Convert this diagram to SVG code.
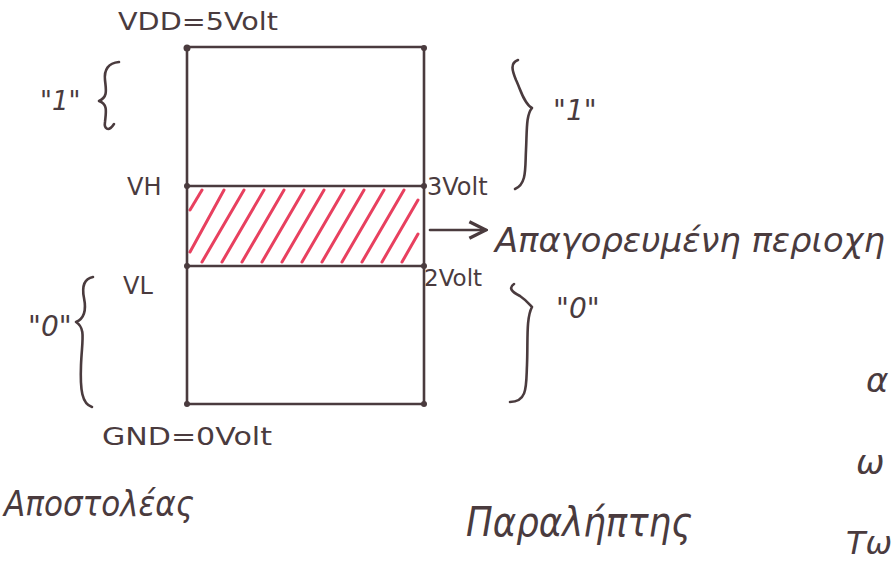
<svg xmlns="http://www.w3.org/2000/svg" width="894" height="562" viewBox="0 0 894 562">
<defs>
<style>
.ink{fill:none;stroke:#4a3b3e;stroke-width:2.6;stroke-linecap:round;stroke-linejoin:round}
.t{fill:#4a3b3e;font-family:"DejaVu Sans","Noto Sans",sans-serif}
.h{stroke:#e8405f;stroke-width:3;stroke-linecap:round}
.dot{fill:#4a3b3e}
</style>
<clipPath id="band"><rect x="188" y="188" width="232" height="76"/></clipPath>
<marker id="arr" viewBox="0 0 10 10" refX="9" refY="5" markerWidth="8" markerHeight="8" orient="auto"><path d="M1,1 L9,5 L1,9" fill="none" stroke="#4a3b3e" stroke-width="1.6"/></marker>
</defs>
<rect width="894" height="562" fill="#ffffff"/>

<g id="forbidden-band">
<g clip-path="url(#band)">
<line class="h" x1="190" y1="210" x2="202" y2="190"/>
<line class="h" x1="190" y1="252" x2="224" y2="190"/>
<line class="h" x1="202" y1="262" x2="244" y2="190"/>
<line class="h" x1="222" y1="262" x2="264" y2="190"/>
<line class="h" x1="242" y1="262" x2="284" y2="190"/>
<line class="h" x1="262" y1="262" x2="304" y2="190"/>
<line class="h" x1="282" y1="262" x2="324" y2="190"/>
<line class="h" x1="302" y1="262" x2="344" y2="190"/>
<line class="h" x1="322" y1="262" x2="364" y2="190"/>
<line class="h" x1="342" y1="262" x2="384" y2="190"/>
<line class="h" x1="362" y1="262" x2="404" y2="190"/>
<line class="h" x1="382" y1="262" x2="418" y2="200"/>
<line class="h" x1="402" y1="262" x2="418" y2="234"/>
</g>
</g>

<g id="voltage-box">
<rect class="ink" x="187" y="47" width="237" height="357"/>
<line class="ink" x1="187" y1="186" x2="424" y2="186"/>
<line class="ink" x1="187" y1="266" x2="424" y2="266"/>
<circle class="dot" cx="187" cy="48" r="3.5"/>
<circle class="dot" cx="424" cy="48" r="3"/>
<circle class="dot" cx="187" cy="186" r="3"/>
<circle class="dot" cx="424" cy="186" r="3"/>
<circle class="dot" cx="187" cy="266" r="3"/>
<circle class="dot" cx="424" cy="266" r="3"/>
<circle class="dot" cx="187" cy="404" r="3"/>
<circle class="dot" cx="424" cy="404" r="3"/>
</g>

<g id="labels-left">
<text class="t" x="118" y="30" font-size="25" textLength="160" lengthAdjust="spacingAndGlyphs">VDD=5Volt</text>
<text class="t" x="127" y="195" font-size="24">VH</text>
<text class="t" x="123" y="294" font-size="24">VL</text>
<text class="t" x="102" y="445" font-size="24" textLength="170" lengthAdjust="spacingAndGlyphs">GND=0Volt</text>
<text class="t" x="40" y="110" font-size="26" font-style="italic">"1"</text>
<text class="t" x="28" y="336" font-size="28" font-style="italic">"0"</text>
<path class="ink" d="M119,62 C108,63 104,70 105,80 C106,90 108,97 99,101 C108,104 106,112 105,122 C104,128 108,133 114,124"/>
<path class="ink" d="M93,277 C83,279 82,288 84,298 C86,308 86,318 76,322 C86,328 82,340 81,365 C80,390 82,404 92,407"/>
</g>

<g id="labels-right">
<text class="t" x="427" y="195" font-size="24">3Volt</text>
<text class="t" x="424" y="286" font-size="23">2Volt</text>
<text class="t" x="553" y="120" font-size="28" font-style="italic">"1"</text>
<text class="t" x="556" y="318" font-size="28" font-style="italic">"0"</text>
<path class="ink" d="M518,60 C510,63 512,70 516,80 C520,88 524,104 532,108 C526,115 527,130 526,150 C525,168 527,184 515,189"/>
<path class="ink" d="M514,284 C508,288 512,292 520,296 C526,300 530,305 532,307 C526,318 528,340 527,365 C526,385 528,402 510,402"/>
<text class="t" x="495" y="252" font-size="34" font-style="italic" textLength="390" lengthAdjust="spacingAndGlyphs">Απαγορευμένη περιοχη</text>
<text class="t" x="866" y="392" font-size="34" font-style="italic">α</text>
<text class="t" x="856" y="474" font-size="34" font-style="italic">ω</text>
<text class="t" x="846" y="554" font-size="32" font-style="italic" textLength="46" lengthAdjust="spacingAndGlyphs">Τω</text>
</g>

<g id="connectors">
<line class="ink" x1="430" y1="230" x2="486" y2="230" marker-end="url(#arr)"/>
</g>

<g id="captions">
<text class="t" x="4" y="516" font-size="36" font-style="italic" textLength="190" lengthAdjust="spacingAndGlyphs">Αποστολέας</text>
<text class="t" x="466" y="536" font-size="40" font-style="italic" textLength="226" lengthAdjust="spacingAndGlyphs">Παραλήπτης</text>
</g>
</svg>
